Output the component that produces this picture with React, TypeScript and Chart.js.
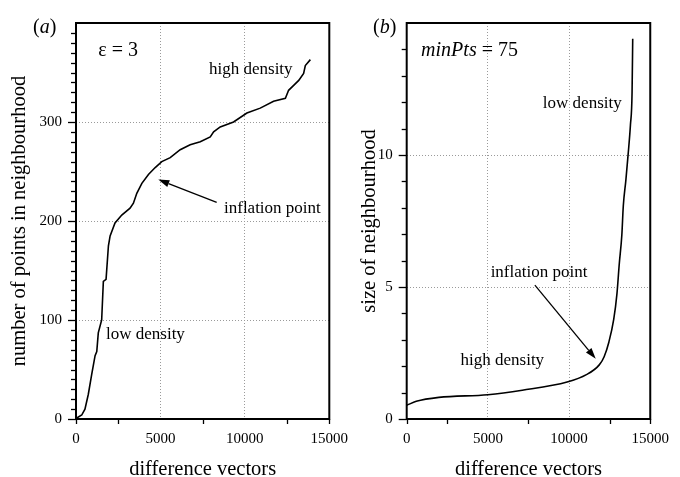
import { useEffect, useRef } from 'react';
import { Chart, registerables } from 'chart.js';

Chart.register(...registerables);

const SERIF = "'Liberation Serif', 'Times New Roman', Times, serif";

// Panel (a): number of points inside the ε = 3 neighbourhood, sorted
const epsVectors = [0, 40, 340, 530, 730, 930, 1130, 1230, 1320, 1520, 1620, 1780, 1920, 2020, 2310, 2710, 3200, 3400, 3600, 3900, 4290, 4690, 5080, 5580, 6170, 6760, 7360, 7950, 8150, 8540, 9330, 10120, 10910, 11700, 12400, 12590, 12890, 13190, 13480, 13580, 13880];
const epsCounts = [0, 1, 4, 10, 25, 45, 64, 68, 87, 100, 139, 141, 175, 185, 198, 206, 213, 218, 228, 238, 247, 254, 260, 264, 272, 277, 280, 285, 290, 295, 300, 309, 314, 321, 324, 332, 337, 342, 349, 357, 363];

// Panel (b): radius needed to hold minPts = 75 neighbours, sorted
const minPtsVectors = [0, 590, 1980, 5000, 7120, 9880, 11070, 11860, 12160, 12450, 12750, 12950, 13090, 13250, 13340, 13500, 13640, 13780, 13880, 13920];
const minPtsSizes = [0.52, 0.67, 0.82, 0.92, 1.09, 1.4, 1.68, 2.05, 2.36, 2.91, 3.77, 4.75, 5.86, 6.97, 8.07, 9.06, 10.04, 11.14, 12.37, 14.4];

// Axis ranges and tick steps
const xRange = [0, 15000];
const xMajorStep = 5000;
const xMinorStep = 2500;
const epsRange = [0, 400];
const epsMajorStep = 100;
const epsMinorStep = 10;
const minPtsRange = [0, 15];
const minPtsMajorStep = 5;
const minPtsMinorStep = 1;

type Part = { text: string; italic?: boolean };
type Note = { x: number; y: number; parts: Part[]; size: number };
type Arrow = { from: [number, number]; to: [number, number] };

const epsNotes: Note[] = [
  { x: 1320, y: 366.5, parts: [{ text: 'ε = 3' }], size: 20 },
  { x: 7876, y: 348.5, parts: [{ text: 'high density' }], size: 17 },
  { x: 8764, y: 207.7, parts: [{ text: 'inflation point' }], size: 17 },
  { x: 1776, y: 81, parts: [{ text: 'low density' }], size: 17 },
];
const epsArrows: Arrow[] = [{ from: [8332, 218.8], to: [4874, 241.9] }];

const minPtsNotes: Note[] = [
  { x: 888, y: 13.75, parts: [{ text: 'minPts', italic: true }, { text: ' = 75' }], size: 20 },
  { x: 8385, y: 11.78, parts: [{ text: 'low density' }], size: 17 },
  { x: 5170, y: 5.39, parts: [{ text: 'inflation point' }], size: 17 },
  { x: 3316, y: 2.06, parts: [{ text: 'high density' }], size: 17 },
];
const minPtsArrows: Arrow[] = [{ from: [7894, 5.07], to: [11642, 2.28] }];

const isMultiple = (v: number, step: number) => Math.abs(v / step - Math.round(v / step)) < 1e-6;

function drawParts(ctx: CanvasRenderingContext2D, parts: Part[], size: number, x: number, y: number) {
  let cx = x;
  for (const p of parts) {
    ctx.font = `${p.italic ? 'italic ' : ''}${size}px ${SERIF}`;
    ctx.fillText(p.text, cx, y);
    cx += ctx.measureText(p.text).width;
  }
}

const decorPlugin = {
  id: 'decor',
  afterDraw(chart: any, _args: any, opts: any) {
    const { ctx, chartArea: a, scales } = chart;
    const xs = scales.x;
    const ys = scales.y;
    ctx.save();
    ctx.strokeStyle = '#000';
    ctx.fillStyle = '#000';

    // y tick marks, pointing outwards
    ctx.lineWidth = 1.3;
    for (let v = ys.min; v < ys.max - 1e-9; v += opts.yMinor) {
      const py = Math.round(ys.getPixelForValue(v)) + 0.5;
      const len = isMultiple(v, opts.yMajor) ? 8 : 5;
      ctx.beginPath();
      ctx.moveTo(a.left - len, py);
      ctx.lineTo(a.left, py);
      ctx.stroke();
    }
    // x tick marks below the axis (ends and minor positions)
    for (let v = xs.min; v <= xs.max + 1e-9; v += opts.xMinor) {
      const end = v === xs.min || v === xs.max;
      if (isMultiple(v, opts.xMajor) && !end) continue;
      const px = Math.round(xs.getPixelForValue(v)) + 0.5;
      ctx.beginPath();
      ctx.moveTo(px, a.bottom);
      ctx.lineTo(px, a.bottom + 5);
      ctx.stroke();
    }

    // plot frame
    ctx.lineWidth = 2;
    ctx.strokeRect(a.left, a.top, a.right - a.left, a.bottom - a.top);

    // annotation texts
    ctx.textAlign = 'left';
    ctx.textBaseline = 'alphabetic';
    for (const n of opts.notes as Note[]) {
      drawParts(ctx, n.parts, n.size, xs.getPixelForValue(n.x), ys.getPixelForValue(n.y));
    }

    // arrows
    for (const ar of opts.arrows as Arrow[]) {
      const x1 = xs.getPixelForValue(ar.from[0]);
      const y1 = ys.getPixelForValue(ar.from[1]);
      const x2 = xs.getPixelForValue(ar.to[0]);
      const y2 = ys.getPixelForValue(ar.to[1]);
      const ang = Math.atan2(y2 - y1, x2 - x1);
      const head = 11;
      const half = 3.6;
      const bx = x2 - head * Math.cos(ang);
      const by = y2 - head * Math.sin(ang);
      ctx.lineWidth = 1.3;
      ctx.beginPath();
      ctx.moveTo(x1, y1);
      ctx.lineTo(bx, by);
      ctx.stroke();
      ctx.beginPath();
      ctx.moveTo(x2, y2);
      ctx.lineTo(bx + half * Math.sin(ang), by - half * Math.cos(ang));
      ctx.lineTo(bx - half * Math.sin(ang), by + half * Math.cos(ang));
      ctx.closePath();
      ctx.fill();
    }

    // panel letter, e.g. (a)
    drawParts(ctx, [{ text: '(' }, { text: opts.letter, italic: true }, { text: ')' }], 20, opts.letterX, opts.letterY);
    ctx.restore();
  },
};

type PanelSpec = {
  xs: number[];
  ys: number[];
  yRange: number[];
  yMajor: number;
  yMinor: number;
  yTitle: string;
  yTitlePad: number;
  padRight: number;
  plotLeft: number;
  tension: number;
  notes: Note[];
  arrows: Arrow[];
  letter: string;
};

function makeConfig(p: PanelSpec): any {
  const tickFont = { family: SERIF, size: 15 };
  return {
    type: 'scatter',
    data: {
      datasets: [
        {
          data: p.xs.map((x, i) => ({ x, y: p.ys[i] })),
          showLine: true,
          borderColor: '#000',
          borderWidth: 1.6,
          pointRadius: 0,
          tension: p.tension,
          cubicInterpolationMode: p.tension > 0 ? 'monotone' : 'default',
          fill: false,
        },
      ],
    },
    options: {
      responsive: false,
      animation: false,
      events: [],
      layout: { padding: { top: 13, right: p.padRight, bottom: 0, left: 0 } },
      plugins: {
        legend: { display: false },
        tooltip: { enabled: false },
        decor: {
          yMajor: p.yMajor,
          yMinor: p.yMinor,
          xMajor: xMajorStep,
          xMinor: xMinorStep,
          notes: p.notes,
          arrows: p.arrows,
          letter: p.letter,
          letterX: 33,
          letterY: 33,
        },
      },
      scales: {
        x: {
          type: 'linear',
          min: xRange[0],
          max: xRange[1],
          ticks: {
            stepSize: xMajorStep,
            padding: 11,
            color: '#000',
            font: tickFont,
            maxRotation: 0,
            callback: (v: number) => String(v),
          },
          grid: { drawTicks: false, color: '#9a9a9a', lineWidth: 1 },
          border: { display: false, dash: [1, 2] },
          title: {
            display: true,
            text: 'difference vectors',
            color: '#000',
            font: { family: SERIF, size: 20.5, lineHeight: '14px' },
            padding: 0,
          },
          afterFit: (s: any) => {
            s.height = 58;
          },
        },
        y: {
          type: 'linear',
          min: p.yRange[0],
          max: p.yRange[1],
          ticks: {
            stepSize: p.yMajor,
            padding: 14,
            color: '#000',
            font: tickFont,
            callback: (v: number) => (v >= p.yRange[1] ? '' : String(v)),
          },
          grid: { drawTicks: false, color: '#9a9a9a', lineWidth: 1 },
          border: { display: false, dash: [1, 2] },
          title: {
            display: true,
            text: p.yTitle,
            color: '#000',
            font: { family: SERIF, size: 20.5, lineHeight: '20px' },
            padding: { top: p.yTitlePad, bottom: 0 },
          },
          afterFit: (s: any) => {
            s.width = p.plotLeft;
          },
        },
      },
    },
    plugins: [decorPlugin],
  };
}

function Panel({ spec, left, width }: { spec: PanelSpec; left: number; width: number }) {
  const ref = useRef<HTMLCanvasElement>(null);
  useEffect(() => {
    const chart = new Chart(ref.current as HTMLCanvasElement, makeConfig(spec));
    return () => chart.destroy();
  }, [spec]);
  return (
    <canvas
      ref={ref}
      width={width}
      height={477}
      style={{ position: 'absolute', left, top: 0, width, height: 477 }}
    />
  );
}

const epsPanel: PanelSpec = {
  xs: epsVectors,
  ys: epsCounts,
  yRange: epsRange,
  yMajor: epsMajorStep,
  yMinor: epsMinorStep,
  yTitle: 'number of points in neighbourhood',
  yTitlePad: 10,
  padRight: 30.7,
  plotLeft: 76,
  tension: 0,
  notes: epsNotes,
  arrows: epsArrows,
  letter: 'a',
};

const minPtsPanel: PanelSpec = {
  xs: minPtsVectors,
  ys: minPtsSizes,
  yRange: minPtsRange,
  yMajor: minPtsMajorStep,
  yMinor: minPtsMinorStep,
  yTitle: 'size of neighbourhood',
  yTitlePad: 20,
  padRight: 20,
  plotLeft: 66.7,
  tension: 0.4,
  notes: minPtsNotes,
  arrows: minPtsArrows,
  letter: 'b',
};

export default function App() {
  return (
    <div style={{ position: 'fixed', left: 0, top: 0, width: 680, height: 477, background: '#fff', overflow: 'hidden' }}>
      <Panel spec={epsPanel} left={0} width={360} />
      <Panel spec={minPtsPanel} left={340} width={340} />
    </div>
  );
}
